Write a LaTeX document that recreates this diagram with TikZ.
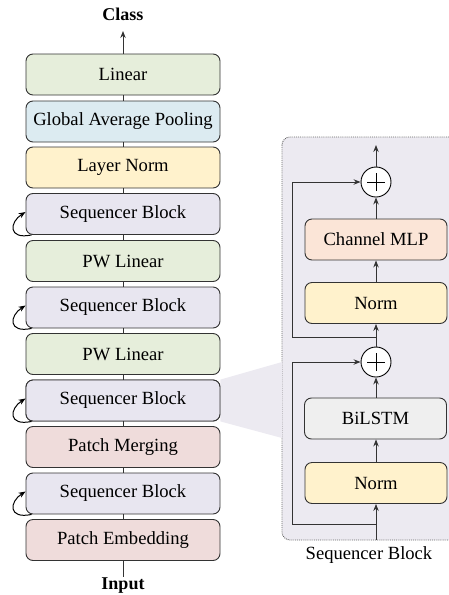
\documentclass[tikz,border=0pt]{standalone}
\usepackage{fontspec}
\setmainfont{Liberation Serif}
\usetikzlibrary{arrows.meta}
\definecolor{bordc}{HTML}{333333}
\definecolor{cgreen}{HTML}{E6EEDB}
\definecolor{cblue}{HTML}{DCEBF1}
\definecolor{cyellow}{HTML}{FFF2CC}
\definecolor{clav}{HTML}{E8E6F0}
\definecolor{cpink}{HTML}{EFDCDB}
\definecolor{cpeach}{HTML}{FBE5D7}
\definecolor{cgray}{HTML}{EFEFEF}
\definecolor{cframe}{HTML}{ECEAF1}
\begin{document}
\begin{tikzpicture}[x=1pt,y=-1pt,
  every node/.style={font=\fontsize{18.6}{22}\selectfont},
  blk/.style={draw=bordc, line width=0.9pt, rounded corners=7pt, minimum width=194pt, minimum height=41pt, inner sep=0pt},
  iblk/.style={blk, minimum width=142pt},
  conn/.style={draw=bordc, line width=0.9pt},
  arr/.style={conn, -{Stealth[length=7pt,width=5.4pt]}},
  plusnode/.style={circle, draw=black, fill=white, line width=0.9pt, minimum size=30pt, inner sep=0pt,
    path picture={\draw[line width=0.9pt] ([xshift=-9pt]path picture bounding box.center) -- ([xshift=9pt]path picture bounding box.center);
                  \draw[line width=0.9pt] ([yshift=-9pt]path picture bounding box.center) -- ([yshift=9pt]path picture bounding box.center);}},
  lbl/.style={font=\fontsize{18}{22}\selectfont\bfseries, inner sep=1pt}
]
\useasboundingbox (0,0) rectangle (449,595);
\clip (0,0) rectangle (449,595);

% right panel frame
\draw[fill=cframe, draw=gray!80!black, densely dotted, line width=0.9pt, rounded corners=8pt] (282,137) rectangle (480,540);

% left column
\node[blk, fill=cgreen]  (lin)  at (123,74.5)  {Linear};
\node[blk, fill=cblue]   (gap)  at (123,121.5) {Global Average Pooling};
\node[blk, fill=cyellow] (ln)   at (123,167.5) {Layer Norm};
\node[blk, fill=clav]    (sb1)  at (123,214)   {Sequencer Block};
\node[blk, fill=cgreen]  (pw1)  at (123,261)   {PW Linear};
\node[blk, fill=clav]    (sb2)  at (123,307.5) {Sequencer Block};
\node[blk, fill=cgreen]  (pw2)  at (123,354)   {PW Linear};
\node[blk, fill=clav]    (sb3)  at (123,400.5) {Sequencer Block};
\node[blk, fill=cpink]   (pm)   at (123,447)   {Patch Merging};
\node[blk, fill=clav]    (sb4)  at (123,493.5) {Sequencer Block};
\node[blk, fill=cpink]   (pe)   at (123,540)   {Patch Embedding};

% zoom wedge
\fill[cframe] (sb3.north east) -- (282,362) -- (282,438) -- (sb3.south east) -- cycle;
\node[blk, fill=clav] at (sb3) {Sequencer Block};

\node[lbl] (cls) at (123,14) {Class};
\coordinate (clsin) at (123,31);
\node[lbl, anchor=north] (inp) at (123,577) {Input};

\draw[arr] (lin.north) -- (clsin);
\foreach \a/\b in {lin/gap, gap/ln, ln/sb1, sb1/pw1, pw1/sb2, sb2/pw2, pw2/sb3, sb3/pm, pm/sb4, sb4/pe}
  \draw[conn] (\a.south) -- (\b.north);
\draw[conn] (pe.south) -- (inp.north);

% self loops
\foreach \s in {sb1,sb2,sb3,sb4}
  \draw[arr, line width=1pt, black] ([xshift=6pt]\s.south west) .. controls +(-24,5) and +(-16,10) .. ([yshift=2pt]\s.west);

% right panel content
\node[plusnode] (p1) at (376,182) {};
\node[iblk, fill=cpeach] (cmlp) at (376,239.5) {Channel MLP};
\node[iblk, fill=cyellow] (n1) at (376,303) {Norm};
\node[plusnode] (p2) at (376,362) {};
\node[iblk, fill=cgray] (bil) at (375.5,418.5) {BiLSTM};
\node[iblk, fill=cyellow] (n2) at (376,483) {Norm};
\node (cap) at (369,555) {Sequencer Block};

\coordinate (inb) at (376,540);
\coordinate (outt) at (376,145);
\coordinate (j1) at (376,524);
\coordinate (k1) at (292,524);
\coordinate (j2) at (376,337);
\coordinate (k2) at (292,337);

\draw[arr] (inb) -- (n2.south);
\draw[arr] (n2.north) -- (bil.south -| n2.north);
\draw[arr] (bil.north -| p2.south) -- (p2.south);
\draw[arr] (j1) -- (k1) |- (p2.west);
\draw[arr] (p2.north) -- (n1.south);
\draw[arr] (n1.north) -- (cmlp.south);
\draw[arr] (cmlp.north) -- (p1.south);
\draw[arr] (j2) -- (k2) |- (p1.west);
\draw[arr] (p1.north) -- (outt);
\end{tikzpicture}
\end{document}
